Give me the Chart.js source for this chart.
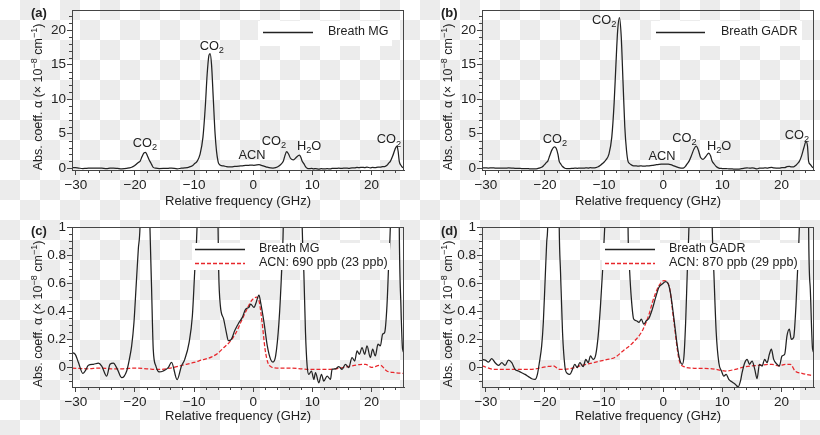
<!DOCTYPE html>
<html>
<head>
<meta charset="utf-8">
<script src="https://cdn.jsdelivr.net/npm/chart.js@4.4.0/dist/chart.umd.min.js"></script>
<style>
html, body { margin: 0; padding: 0; }
body {
    width: 820px; height: 435px; position: relative; overflow: hidden;
    background-color: #fff;
    background-image:
        linear-gradient(45deg, #ececec 25%, transparent 25%, transparent 75%, #ececec 75%),
        linear-gradient(45deg, #ececec 25%, transparent 25%, transparent 75%, #ececec 75%);
    background-size: 40px 40px;
    background-position: 0 0, 20px 20px;
}
canvas { position: absolute; }
</style>
</head>
<body>
<canvas id="pa" width="410" height="215" style="left:0;top:0"></canvas>
<canvas id="pb" width="410" height="215" style="left:410px;top:0"></canvas>
<canvas id="pc" width="410" height="220" style="left:0;top:215px"></canvas>
<canvas id="pd" width="410" height="220" style="left:410px;top:215px"></canvas>
<script>
// axis ticks
const xTicks = [-30, -20, -10, 0, 10, 20];
const yTicksFull = [0, 5, 10, 15, 20];
const yTicksZoom = [0, 0.2, 0.4, 0.6, 0.8, 1];

// Breath MG spectrum (GHz, 1e-8 cm-1)
const mgFreq = [-30.67, -30.1, -29.56, -28.82, -28.43, -27.87, -27.03, -26.18, -25.62, -24.78,
    -24.22, -23.65, -22.97, -22.24, -21.4, -20.95, -20.56, -20.17, -19.83, -19.43,
    -19.15, -18.8, -18.45, -18.2, -17.9, -17.65, -17.47, -17.19, -16.91, -16.46,
    -15.9, -15.22, -14.38, -13.82, -12.87, -12.14, -11.58, -10.85, -10.29, -9.9,
    -9.5, -9.0, -8.5, -8.1, -7.8, -7.5, -7.3, -7.05, -6.75, -6.45,
    -6.2, -5.95, -5.84, -5.56, -5.0, -4.55, -4.21, -3.7, -3.14, -2.41,
    -1.84, -1.28, -0.72, -0.44, 0.13, 0.41, 0.97, 1.25, 1.82, 2.38,
    2.94, 3.34, 3.79, 4.35, 4.8, 5.08, 5.35, 5.65, 5.95, 6.3,
    6.8, 7.3, 7.8, 8.05, 8.28, 8.56, 8.84, 9.12, 9.4, 9.85,
    10.25, 10.53, 11.09, 11.54, 11.94, 12.5, 13.06, 13.34, 13.9, 14.47,
    15.03, 15.59, 16.15, 16.71, 17.16, 17.56, 17.95, 18.4, 18.85, 19.24,
    19.81, 20.2, 20.65, 21.1, 21.5, 21.89, 22.23, 22.62, 22.9, 23.19,
    23.6, 24.0, 24.3, 24.5, 24.7, 24.98, 25.26, 25.6];
const mgAbs = [0.105, 0.093, 0.034, -0.043, -0.026, 0.015, 0.022, 0.03, 0.009, -0.062,
    0.022, 0.03, -0.014, -0.074, -0.026, 0.057, 0.153, 0.32, 0.56, 0.845,
    1.0, 1.7, 2.25, 2.3, 1.8, 1.3, 1.0, 0.56, 0.13, 0.009,
    -0.033, -0.026, -0.002, 0.036, -0.088, 0.009, 0.057, 0.176, 0.368, 0.68,
    1.0, 2.0, 4.5, 9.0, 13.5, 16.3, 16.6, 15.0, 10.0, 5.0,
    2.4, 1.0, 0.68, 0.44, 0.344, 0.249, 0.19, 0.2, 0.26, 0.32,
    0.356, 0.415, 0.427, 0.451, 0.427, 0.451, 0.515, 0.463, 0.32, 0.153,
    0.057, 0.038, 0.082, 0.32, 0.68, 1.0, 1.8, 2.4, 2.1, 1.45,
    1.2, 1.6, 1.9, 1.6, 1.0, 0.68, 0.249, 0.01, -0.05, -0.026,
    -0.086, -0.038, -0.11, -0.05, -0.098, -0.062, -0.086, -0.014, -0.01, 0.005,
    -0.014, 0.022, -0.002, 0.07, 0.045, 0.117, 0.093, 0.141, 0.093, 0.153,
    0.07, 0.129, 0.081, 0.165, 0.153, 0.237, 0.249, 0.44, 0.725, 1.0,
    1.8, 2.8, 3.2, 2.5, 1.0, 0.44, 0.13, 0.1];

// Breath GADR spectrum
const gadrFreq = [-30.67, -30.1, -29.56, -29.0, -28.43, -27.87, -27.3, -26.74, -26.18, -25.62,
    -25.06, -24.5, -23.93, -23.37, -22.8, -22.24, -21.68, -21.28, -20.95, -20.56,
    -20.28, -19.99, -19.71, -19.54, -19.2, -18.8, -18.4, -18.1, -17.8, -17.59,
    -17.37, -17.03, -16.64, -16.24, -15.79, -15.34, -14.95, -14.55, -14.1, -13.54,
    -13.09, -12.7, -12.3, -11.85, -11.4, -11.0, -10.61, -10.27, -9.95, -9.7,
    -9.2, -8.7, -8.3, -8.0, -7.7, -7.4, -7.1, -6.8, -6.5, -6.2,
    -5.95, -5.67, -5.39, -5.0, -4.55, -4.1, -3.7, -3.3, -2.86, -2.41,
    -1.84, -1.28, -0.72, -0.16, 0.41, 0.86, 1.25, 1.82, 2.38, 2.78,
    3.23, 3.51, 3.79, 4.07, 4.35, 4.8, 5.2, 5.6, 5.95, 6.3,
    6.7, 7.2, 7.7, 8.0, 8.28, 8.56, 8.96, 9.4, 9.85, 10.25,
    10.64, 11.09, 11.66, 12.22, 12.67, 13.06, 13.34, 13.79, 14.19, 14.58,
    15.03, 15.48, 15.87, 16.27, 16.71, 17.16, 17.56, 17.95, 18.29, 18.68,
    19.24, 19.64, 20.09, 20.54, 20.93, 21.33, 21.66, 22.06, 22.45, 22.79,
    23.02, 23.4, 23.8, 24.15, 24.4, 24.59, 24.87, 25.26, 25.6];
const gadrAbs = [0.057, 0.052, 0.038, 0.062, 0.033, 0.014, 0.033, 0.014, 0.052, 0.033,
    -0.014, -0.026, -0.038, -0.05, -0.066, -0.081, -0.086, -0.05, 0.033, 0.153,
    0.32, 0.606, 0.89, 1.0, 1.8, 2.7, 3.1, 2.9, 2.0, 1.0,
    0.68, 0.25, 0.01, -0.043, -0.05, -0.014, 0.022, -0.002, 0.033, 0.005,
    0.057, 0.033, 0.081, 0.057, 0.093, 0.224, 0.44, 0.68, 0.95, 1.2,
    2.0, 4.5, 9.5, 15.0, 20.0, 21.8, 19.0, 12.5, 6.0, 2.5,
    1.0, 0.68, 0.49, 0.344, 0.332, 0.32, 0.344, 0.308, 0.332, 0.35,
    0.415, 0.499, 0.571, 0.594, 0.611, 0.594, 0.523, 0.344, 0.153, 0.057,
    0.022, 0.081, 0.32, 0.68, 1.0, 1.9, 2.8, 3.2, 2.6, 1.6,
    1.3, 1.7, 2.2, 1.8, 1.0, 0.68, 0.25, 0.033, -0.026, -0.062,
    -0.05, -0.086, -0.105, -0.122, -0.139, -0.098, -0.038, 0.033, 0.057, 0.022,
    0.045, -0.014, -0.081, 0.022, 0.009, 0.057, 0.033, 0.093, 0.129, 0.057,
    0.022, 0.009, 0.081, 0.093, 0.224, 0.272, 0.2, 0.213, 0.44, 0.75,
    1.0, 1.8, 3.0, 3.85, 3.2, 1.0, 0.56, 0.13, 0.1];

// ACN fits
const acnMgFreq = [-30.6, -28, -26, -24, -22, -20, -18, -16, -14, -12,
    -10, -8.5, -8, -7, -6, -5, -4, -3, -2, -1,
    -0.2, 0.6, 1, 1.5, 2, 2.5, 3, 4, 6, 8,
    10, 12, 14, 16, 18, 19, 20, 21.5, 22.6, 24, 25.6];
const acnMgAbs = [-0.005, -0.01, -0.005, -0.01, -0.01, -0.005, -0.01, -0.015, -0.005, 0.015,
    0.035, 0.055, 0.06, 0.075, 0.1, 0.14, 0.18, 0.24, 0.33, 0.42,
    0.48, 0.5, 0.47, 0.32, 0.13, 0.03, 0.005, -0.005, -0.005, -0.01,
    -0.015, -0.015, -0.01, 0.005, 0.02, 0.022, 0.0, 0.015, -0.026, -0.038, -0.043];
const acnGadrFreq = [-30.6, -28.6, -25.2, -22.5, -19.7, -18.6, -17.5, -15.8, -14.1, -11.85,
    -9.6, -8.2, -6.8, -5.1, -3.4, -2.3, -1.84, -0.72, 0.13, 0.97,
    1.82, 2.66, 3.51, 5.5, 8.28, 10.53, 12.2, 13.9, 16.15, 18.4,
    19.5, 20.65, 21.5, 22.3, 23.47, 25.6];
const acnGadrAbs = [0.01, -0.014, -0.014, -0.014, 0.005, 0.01, -0.014, -0.01, 0.01, 0.033,
    0.055, 0.07, 0.117, 0.177, 0.272, 0.392, 0.463, 0.582, 0.618, 0.582,
    0.32, 0.057, 0.005, -0.007, -0.01, -0.026, -0.014, 0.005, 0.014, 0.022,
    0.01, 0.022, 0.022, -0.026, -0.043, -0.062];

// peak labels on the full spectra
const peakText = ['CO₂', 'CO₂', 'ACN', 'CO₂', 'H₂O', 'CO₂'];
const peakFreqA = [-18.3, -7.0, -0.2, 3.5, 9.45, 22.95];
const peakAbsA = [3.65, 17.6, 1.8, 3.85, 3.1, 4.1];
const peakFreqB = [-18.3, -10.0, -0.2, 3.6, 9.45, 22.6];
const peakAbsB = [4.2, 21.4, 1.75, 4.3, 3.1, 4.8];

const FONT = "'Liberation Sans', Arial, sans-serif";
const INK = '#222';
const AXIS = '#444';
const RED = '#e8262b';

Chart.defaults.font.family = FONT;
Chart.defaults.color = INK;

function toPts(xs, ys) {
    return xs.map((x, i) => ({ x: x, y: ys[i] }));
}

function fmt(v) {
    return String(v).replace('-', '\u2212');
}

function splitSub(s) {
    const out = [];
    for (const ch of s) {
        const k = '₀₁₂₃₄₅₆₇₈₉'.indexOf(ch);
        if (k >= 0) out.push([String(k), 1]);
        else if (out.length && out[out.length - 1][1] === 0) out[out.length - 1][0] += ch;
        else out.push([ch, 0]);
    }
    return out;
}

// parts: [text, 0 normal | 1 sub | -1 sup]
function drawRich(ctx, parts, cx, cy, size) {
    const small = size * 0.72;
    let total = 0;
    const w = parts.map(p => {
        ctx.font = (p[1] ? small : size) + 'px ' + FONT;
        const m = ctx.measureText(p[0]).width;
        total += m;
        return m;
    });
    let x = cx - total / 2;
    ctx.textAlign = 'left';
    ctx.textBaseline = 'middle';
    parts.forEach((p, i) => {
        ctx.font = (p[1] ? small : size) + 'px ' + FONT;
        let dy = 0;
        if (p[1] === 1) dy = size * 0.32;
        if (p[1] === -1) dy = -size * 0.36;
        ctx.fillText(p[0], x, cy + dy);
        x += w[i];
    });
}

const yTitleParts = [['Abs. coeff. α (× 10', 0], ['\u22128', -1], [' cm', 0], ['\u22121', -1], [')', 0]];

const panelDeco = {
    id: 'panelDeco',
    afterDraw(chart, args, o) {
        const ctx = chart.ctx;
        const a = chart.chartArea;
        const xs = chart.scales.x, ys = chart.scales.y;
        ctx.save();
        ctx.strokeStyle = AXIS;
        ctx.lineWidth = 1;
        ctx.setLineDash([]);
        // frame
        ctx.strokeRect(Math.round(a.left) + 0.5, Math.round(a.top) + 0.5,
            Math.round(a.right - a.left) - 1, Math.round(a.bottom - a.top));
        // minor ticks
        ctx.beginPath();
        for (let i = -15; i <= 12; i++) {
            if (i % 5 === 0) continue;
            const px = Math.round(xs.getPixelForValue(i * 2)) + 0.5;
            ctx.moveTo(px, a.bottom);
            ctx.lineTo(px, a.bottom + 3);
        }
        for (let i = o.minor.from; i <= o.minor.to; i++) {
            if (i % o.minor.every === 0) continue;
            const py = Math.round(ys.getPixelForValue(i * o.minor.step)) + 0.5;
            ctx.moveTo(a.left, py);
            ctx.lineTo(a.left - 3, py);
        }
        ctx.stroke();

        ctx.fillStyle = INK;
        // y title
        ctx.save();
        ctx.translate(39, (a.top + a.bottom) / 2 + 7);
        ctx.rotate(-Math.PI / 2);
        drawRich(ctx, yTitleParts, 0, 0, 12.5);
        ctx.restore();

        // panel tag
        ctx.font = 'bold 13px ' + FONT;
        ctx.textAlign = 'left';
        ctx.textBaseline = 'middle';
        ctx.fillText(o.tag, 31, o.tagY);

        // peak labels
        if (o.peaks) {
            o.peaks.text.forEach((t, i) => {
                drawRich(ctx, splitSub(t), xs.getPixelForValue(o.peaks.x[i]),
                    ys.getPixelForValue(o.peaks.y[i]), 12.8);
            });
        }

        // legend
        const L = o.legend;
        ctx.fillStyle = '#fff';
        ctx.fillRect(L.x0, L.y0, L.x1 - L.x0, L.y1 - L.y0);
        L.rows.forEach(r => {
            ctx.strokeStyle = r.color;
            ctx.lineWidth = 1.3;
            ctx.setLineDash(r.dash);
            ctx.beginPath();
            ctx.moveTo(L.lx0, r.y + 0.5);
            ctx.lineTo(L.lx1, r.y + 0.5);
            ctx.stroke();
            ctx.setLineDash([]);
            ctx.fillStyle = INK;
            ctx.font = '12.5px ' + FONT;
            ctx.textAlign = 'left';
            ctx.textBaseline = 'middle';
            ctx.fillText(r.text, L.tx, r.y);
        });
        ctx.restore();
    }
};

function makePanel(id, o) {
    const datasets = o.series.map(s => ({
        data: toPts(s.x, s.y),
        borderColor: s.color,
        borderWidth: 1.25,
        borderDash: s.dash || [],
        pointRadius: 0,
        fill: false,
        cubicInterpolationMode: 'monotone'
    }));
    new Chart(document.getElementById(id), {
        type: 'line',
        data: { datasets: datasets },
        options: {
            responsive: false,
            animation: false,
            events: [],
            layout: { padding: { top: o.top, right: 6, left: 0, bottom: 0 } },
            plugins: {
                legend: { display: false },
                tooltip: { enabled: false },
                panelDeco: o.deco
            },
            scales: {
                x: {
                    type: 'linear',
                    min: -30.65,
                    max: 25.5,
                    afterFit: s => { s.height = o.xh; },
                    afterBuildTicks: s => { s.ticks = xTicks.map(v => ({ value: v })); },
                    ticks: { callback: fmt, font: { size: 13.5 }, color: INK, padding: 2, maxRotation: 0, autoSkip: false },
                    grid: { drawOnChartArea: false, drawTicks: true, tickLength: 5, color: AXIS },
                    border: { color: AXIS },
                    title: {
                        display: true, text: 'Relative frequency (GHz)', color: INK,
                        font: { size: 13 }, padding: { top: 0, bottom: o.titlePad }
                    }
                },
                y: {
                    type: 'linear',
                    min: o.yMin,
                    max: o.yMax,
                    afterFit: s => { s.width = 72; },
                    afterBuildTicks: s => { s.ticks = o.yTicks.map(v => ({ value: v })); },
                    ticks: { callback: fmt, font: { size: 13.5 }, color: INK, padding: 1, autoSkip: false },
                    grid: { drawOnChartArea: false, drawTicks: true, tickLength: 5, color: AXIS },
                    border: { color: AXIS }
                }
            }
        },
        plugins: [panelDeco]
    });
}

makePanel('pa', {
    top: 10, xh: 45, titlePad: 6, yMin: -0.25, yMax: 22.9, yTicks: yTicksFull,
    series: [{ x: mgFreq, y: mgAbs, color: INK }],
    deco: {
        tag: '(a)', tagY: 13,
        minor: { from: 0, to: 22, step: 1, every: 5 },
        peaks: { text: peakText, x: peakFreqA, y: peakAbsA },
        legend: { x0: 258, y0: 21, x1: 392, y1: 46, lx0: 263, lx1: 313, tx: 328,
            rows: [{ y: 32, text: 'Breath MG', color: INK, dash: [] }] }
    }
});

makePanel('pb', {
    top: 10, xh: 45, titlePad: 6, yMin: -0.25, yMax: 22.9, yTicks: yTicksFull,
    series: [{ x: gadrFreq, y: gadrAbs, color: INK }],
    deco: {
        tag: '(b)', tagY: 13,
        minor: { from: 0, to: 22, step: 1, every: 5 },
        peaks: { text: peakText, x: peakFreqB, y: peakAbsB },
        legend: { x0: 241, y0: 21, x1: 392, y1: 46, lx0: 246, lx1: 295, tx: 311,
            rows: [{ y: 32, text: 'Breath GADR', color: INK, dash: [] }] }
    }
});

makePanel('pc', {
    top: 12, xh: 48, titlePad: 10.3, yMin: -0.14, yMax: 1, yTicks: yTicksZoom,
    series: [
        { x: mgFreq, y: mgAbs, color: INK },
        { x: acnMgFreq, y: acnMgAbs, color: RED, dash: [4, 2] }
    ],
    deco: {
        tag: '(c)', tagY: 16,
        minor: { from: -2, to: 20, step: 0.05, every: 4 },
        legend: { x0: 192, y0: 28, x1: 390, y1: 55, lx0: 195, lx1: 245, tx: 259,
            rows: [
                { y: 34, text: 'Breath MG', color: INK, dash: [] },
                { y: 48, text: 'ACN: 690 ppb (23 ppb)', color: RED, dash: [4, 2] }
            ] }
    }
});

makePanel('pd', {
    top: 12, xh: 48, titlePad: 10.3, yMin: -0.14, yMax: 1, yTicks: yTicksZoom,
    series: [
        { x: gadrFreq, y: gadrAbs, color: INK },
        { x: acnGadrFreq, y: acnGadrAbs, color: RED, dash: [4, 2] }
    ],
    deco: {
        tag: '(d)', tagY: 16,
        minor: { from: -2, to: 20, step: 0.05, every: 4 },
        legend: { x0: 192, y0: 28, x1: 390, y1: 55, lx0: 195, lx1: 245, tx: 259,
            rows: [
                { y: 34, text: 'Breath GADR', color: INK, dash: [] },
                { y: 48, text: 'ACN: 870 ppb (29 ppb)', color: RED, dash: [4, 2] }
            ] }
    }
});
</script>
</body>
</html>
